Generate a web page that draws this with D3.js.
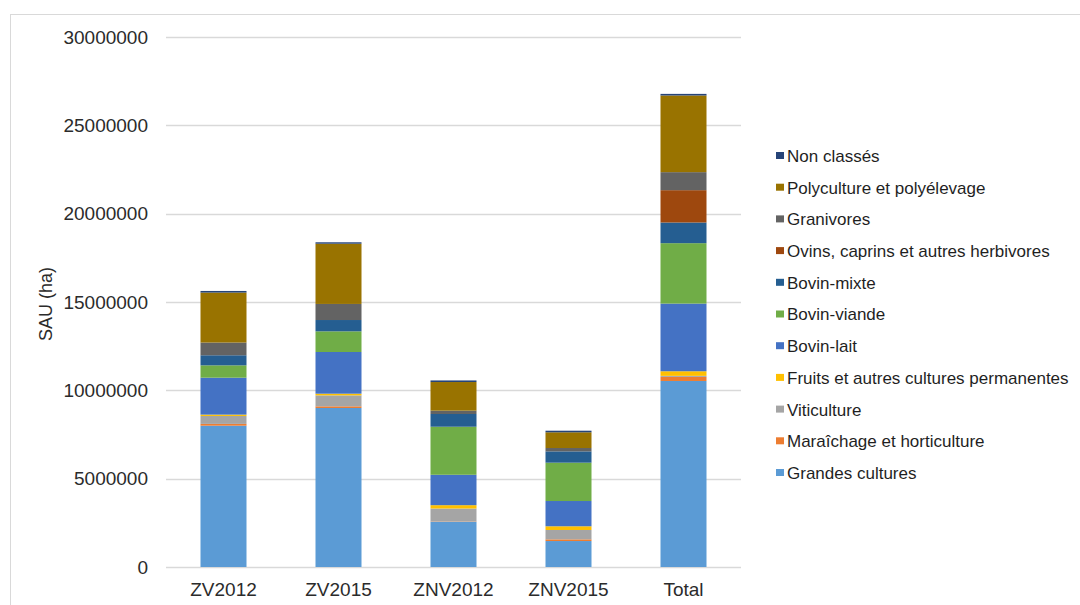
<!DOCTYPE html>
<html>
<head>
<meta charset="utf-8">
<script src="https://cdn.jsdelivr.net/npm/d3@7"></script>
<style>
  html, body { margin: 0; padding: 0; background: #fff; }
  svg { display: block; font-family: "Liberation Sans", Arial, sans-serif; }
</style>
</head>
<body>
<svg id="chart" width="1080" height="605"></svg>
<script>
// Zones / years
const categories = ["ZV2012", "ZV2015", "ZNV2012", "ZNV2015", "Total"];

// SAU (ha) by farm type (OTEX), one value per category
const grandesCultures = [8000000, 9000000, 2550000, 1470000, 10530000];
const maraichage      = [100000, 95000, 20000, 95000, 230000];
const viticulture     = [450000, 620000, 740000, 530000, 60000];
const fruits          = [75000, 95000, 190000, 210000, 260000];
const bovinLait       = [2090000, 2360000, 1720000, 1430000, 3830000];
const bovinViande     = [700000, 1170000, 2720000, 2170000, 3420000];
const bovinMixte      = [570000, 640000, 720000, 640000, 1170000];
const ovinsCaprins    = [0, 0, 0, 0, 1830000];
const granivores      = [720000, 910000, 190000, 190000, 1020000];
const polyculture     = [2830000, 3410000, 1620000, 890000, 4340000];
const nonClasses      = [90000, 80000, 90000, 90000, 90000];

// Series names, bottom of the stack first
const seriesNames = [
  "Grandes cultures",
  "Maraîchage et horticulture",
  "Viticulture",
  "Fruits et autres cultures permanentes",
  "Bovin-lait",
  "Bovin-viande",
  "Bovin-mixte",
  "Ovins, caprins et autres herbivores",
  "Granivores",
  "Polyculture et polyélevage",
  "Non classés"
];
const seriesValues = [
  grandesCultures, maraichage, viticulture, fruits, bovinLait,
  bovinViande, bovinMixte, ovinsCaprins, granivores, polyculture, nonClasses
];
const seriesColors = [
  "#5B9BD5", "#ED7D31", "#A5A5A5", "#FFC000", "#4472C4",
  "#70AD47", "#255E91", "#9E480E", "#636363", "#997300", "#264478"
];

// Y axis tick values
const yTicks = [0, 5000000, 10000000, 15000000, 20000000, 25000000, 30000000];

// Rows for d3.stack
const rows = categories.map((c, i) => {
  const r = { category: c };
  seriesNames.forEach((s, k) => { r[s] = seriesValues[k][i]; });
  return r;
});

const svg = d3.select("#chart");

// Chart frame
svg.append("rect")
  .attr("x", 10.5).attr("y", 14.5)
  .attr("width", 1100).attr("height", 700)
  .attr("fill", "#fff")
  .attr("stroke", "#d9d9d9");

const x = d3.scaleBand()
  .domain(categories)
  .range([166, 741])
  .paddingInner(0.6)
  .paddingOuter(0.3);

const y = d3.scaleLinear()
  .domain([0, 30000000])
  .range([567, 37]);

// Gridlines
svg.append("g")
  .selectAll("line")
  .data(yTicks)
  .join("line")
  .attr("x1", 166).attr("x2", 741)
  .attr("y1", d => Math.round(y(d)) + 0.5)
  .attr("y2", d => Math.round(y(d)) + 0.5)
  .attr("stroke", "#d9d9d9")
  .attr("stroke-width", 1.3);

// Y axis labels
const yAxis = svg.append("g")
  .attr("transform", "translate(166,0)")
  .call(d3.axisLeft(y).tickValues(yTicks).tickFormat(d3.format("d")).tickSize(0).tickPadding(18));
yAxis.select(".domain").remove();
yAxis.selectAll("text")
  .attr("font-size", 19)
  .attr("fill", "#2b2b2b")
  .attr("font-family", "Liberation Sans, Arial, sans-serif");

// X axis labels
const xAxis = svg.append("g")
  .attr("transform", "translate(0,567)")
  .call(d3.axisBottom(x).tickSize(0).tickPadding(16));
xAxis.select(".domain").remove();
xAxis.selectAll("text")
  .attr("font-size", 19)
  .attr("fill", "#2b2b2b")
  .attr("font-family", "Liberation Sans, Arial, sans-serif");

// Y axis title
svg.append("text")
  .attr("transform", "translate(52,304) rotate(-90)")
  .attr("text-anchor", "middle")
  .attr("font-size", 18)
  .attr("fill", "#2b2b2b")
  .text("SAU (ha)");

// Stacked bars
const stacked = d3.stack().keys(seriesNames)(rows);
svg.append("g")
  .selectAll("g")
  .data(stacked)
  .join("g")
  .attr("fill", (d, i) => seriesColors[i])
  .selectAll("rect")
  .data(d => d)
  .join("rect")
  .attr("x", d => x(d.data.category))
  .attr("width", x.bandwidth())
  .attr("y", d => y(d[1]))
  .attr("height", d => Math.max(0, y(d[0]) - y(d[1])));

// Legend, top entry is the top of the stack
const legendItems = seriesNames.map((s, i) => ({ name: s, color: seriesColors[i] })).reverse();
const legend = svg.append("g");
const lg = legend.selectAll("g")
  .data(legendItems)
  .join("g")
  .attr("transform", (d, i) => `translate(776,${156 + i * 31.7})`);
lg.append("rect")
  .attr("x", 0).attr("y", -4)
  .attr("width", 8).attr("height", 7)
  .attr("fill", d => d.color);
lg.append("text")
  .attr("x", 11)
  .attr("y", 0)
  .attr("dy", "0.35em")
  .attr("font-size", 17)
  .attr("fill", "#1f1f1f")
  .text(d => d.name);
</script>
</body>
</html>
